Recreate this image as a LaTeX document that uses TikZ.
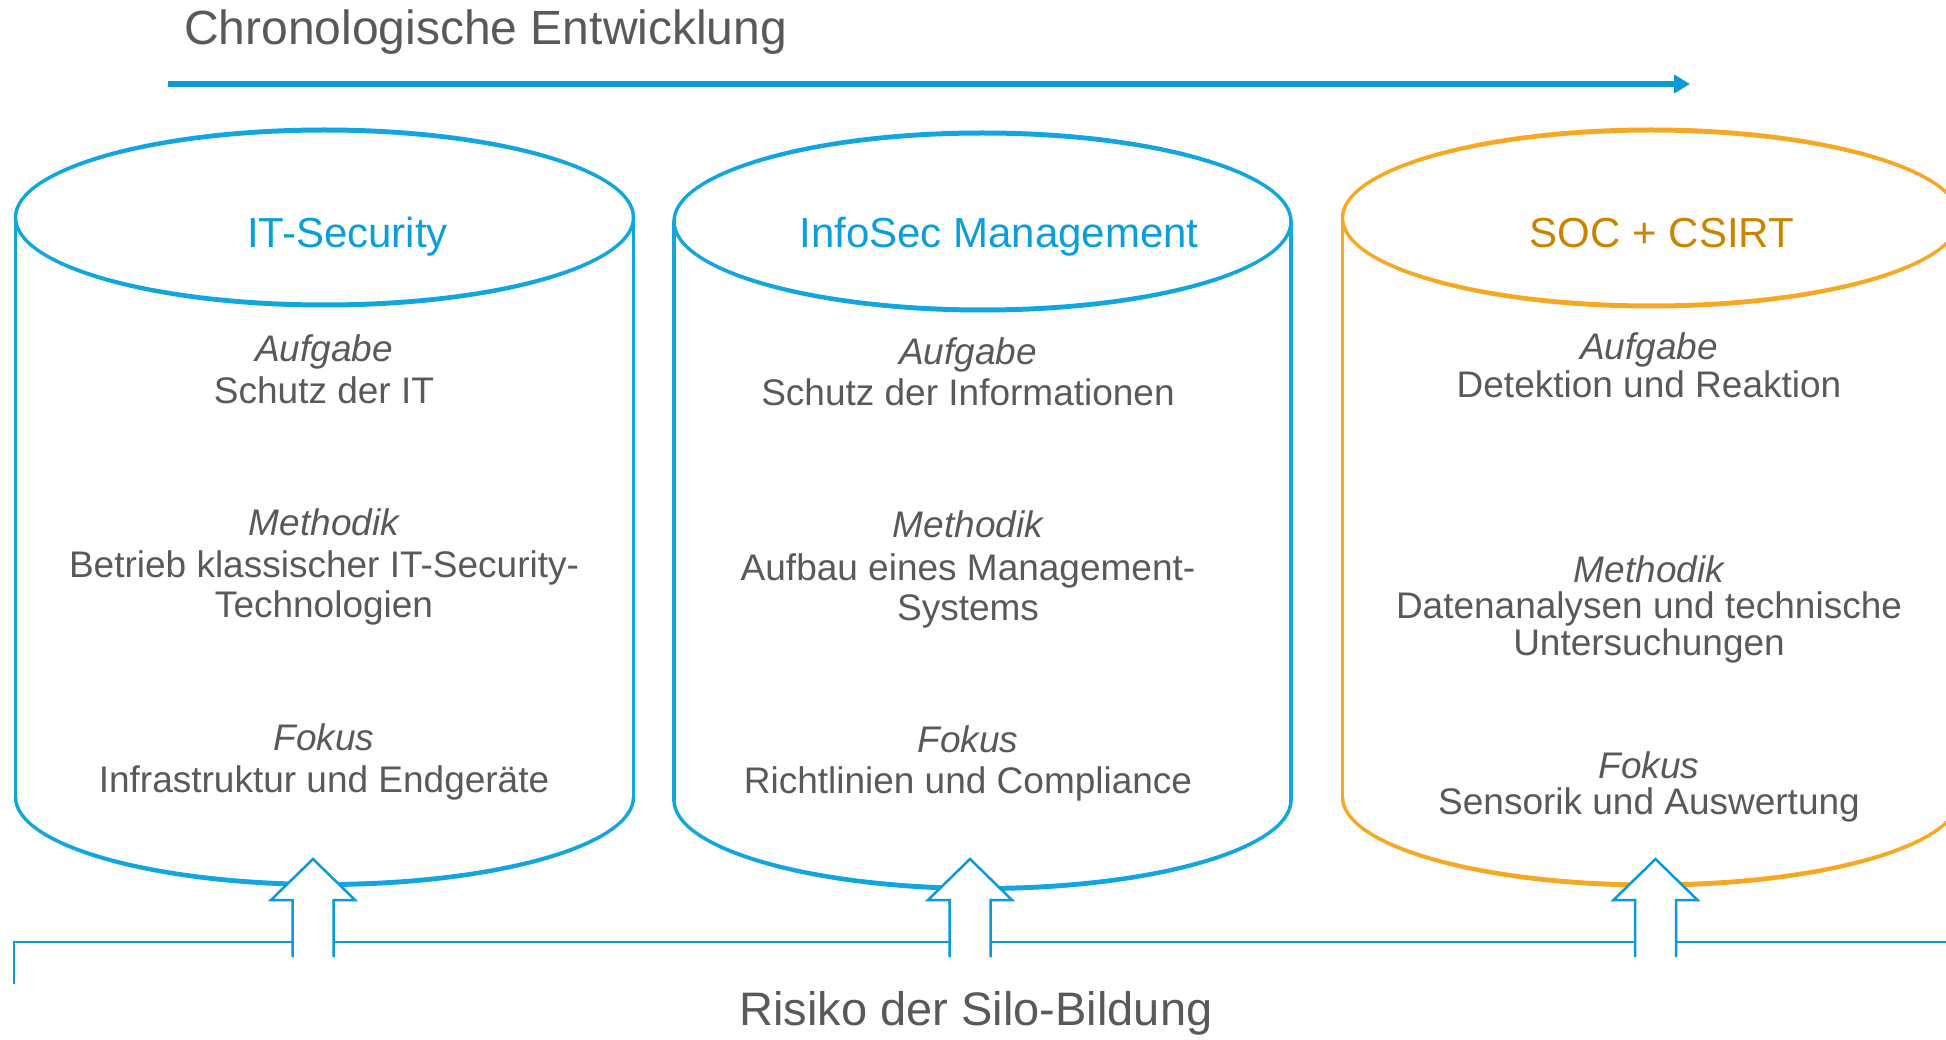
\documentclass[tikz,border=0pt]{standalone}
\usepackage{fontspec}
\setmainfont{Liberation Sans}
\usetikzlibrary{arrows.meta}
\definecolor{cblue}{HTML}{12A6E0}
\definecolor{cbluetxt}{HTML}{0A9FDB}
\definecolor{carrow}{HTML}{0A9AD8}
\definecolor{corange}{HTML}{F7A823}
\definecolor{corangetxt}{HTML}{C98500}
\definecolor{tgray}{HTML}{595959}
% #1 cx, #2 rx, #3 top cy, #4 ry, #5 bottom cy, #6 colour
\newcommand\drawsilo[6]{%
  \fill[#6,even odd rule] (#1,#3) ellipse[x radius=#2+1.75, y radius=#4+2.5]
                          (#1,#3) ellipse[x radius=#2-1.75, y radius=#4-2.5];
  \fill[#6] (#1-#2-1.75,#5) arc[start angle=180,end angle=0,x radius=#2+1.75,y radius=#4+2.5]
            -- (#1+#2-1.75,#5) arc[start angle=0,end angle=180,x radius=#2-1.75,y radius=#4-2.5] -- cycle;
  \draw[line width=3.5pt,#6] (#1-#2,#3) -- (#1-#2,#5+0.5);
  \draw[line width=3.5pt,#6] (#1+#2,#3) -- (#1+#2,#5+0.5);
}
\newcommand\uparrowblock[1]{%
  \fill[white] (#1-20.5,957) -- (#1-20.5,900) -- (#1-42,900) -- (#1,859) -- (#1+42,900) -- (#1+20.5,900) -- (#1+20.5,957) -- cycle;
  \draw[bracket] (#1-20.5,957) -- (#1-20.5,900) -- (#1-42,900) -- (#1,859) -- (#1+42,900) -- (#1+20.5,900) -- (#1+20.5,957);
}
\begin{document}
\begin{tikzpicture}[x=1pt,y=-1pt,
  bracket/.style={draw=carrow,line width=2.5pt},
  head/.style={font=\fontsize{42}{50}\selectfont,anchor=base,inner sep=0pt},
  lab/.style={font=\fontsize{37}{44}\selectfont\itshape,text=tgray,anchor=base,inner sep=0pt},
  txt/.style={font=\fontsize{37}{44}\selectfont,text=tgray,anchor=base,inner sep=0pt}]
\useasboundingbox (0,0) rectangle (1946,1040);
\clip (0,0) rectangle (1946,1040);
% title and timeline
\node[font=\fontsize{48}{58}\selectfont,text=tgray,anchor=base west,inner sep=0pt] (title) at (184,45) {Chronologische Entwicklung};
\coordinate (tl0) at (168,84);
\coordinate (tl1) at (1690,84);
\draw[carrow,line width=6pt,-{Triangle[length=16pt,width=18pt]}] (tl0) -- (tl1);
% silos
\drawsilo{324.5}{309}{217.5}{87.5}{797}{cblue}
\drawsilo{982.5}{308.5}{221.5}{88.5}{800}{cblue}
\drawsilo{1651}{308.5}{218}{88}{797}{corange}
% headings
\node[head,text=cbluetxt] (h1) at (347.5,248) {IT-Security};
\node[head,text=cbluetxt] (h2) at (999,248) {InfoSec Management};
\node[head,text=corangetxt] (h3) at (1662,248) {SOC + CSIRT};
% silo 1
\node[lab] (a1) at (324,362) {Aufgabe};
\node[txt] (a1t) at (324,403) {Schutz der IT};
\node[lab] (m1) at (324,535) {Methodik};
\node[txt] (m1t) at (324,577) {Betrieb klassischer IT-Security-};
\node[txt] (m1u) at (324,617) {Technologien};
\node[lab] (f1) at (324,750) {Fokus};
\node[txt] (f1t) at (324,792) {Infrastruktur und Endgeräte};
% silo 2
\node[lab] (a2) at (968,365) {Aufgabe};
\node[txt] (a2t) at (968,405) {Schutz der Informationen};
\node[lab] (m2) at (968,537) {Methodik};
\node[txt] (m2t) at (968,580) {Aufbau eines Management-};
\node[txt] (m2u) at (968,620) {Systems};
\node[lab] (f2) at (968,752) {Fokus};
\node[txt] (f2t) at (968,793) {Richtlinien und Compliance};
% silo 3
\node[lab] (a3) at (1649,360) {Aufgabe};
\node[txt] (a3t) at (1649,397) {Detektion und Reaktion};
\node[lab] (m3) at (1649,582) {Methodik};
\node[txt] (m3t) at (1649,618) {Datenanalysen und technische};
\node[txt] (m3u) at (1649,655) {Untersuchungen};
\node[lab] (f3) at (1649,778) {Fokus};
\node[txt] (f3t) at (1649,814) {Sensorik und Auswertung};
% bracket and block arrows
\uparrowblock{313}
\uparrowblock{970}
\uparrowblock{1655.5}
\draw[bracket] (14,984) -- (14,942) -- (292.5,942);
\draw[bracket] (333.5,942) -- (949.5,942);
\draw[bracket] (990.5,942) -- (1635,942);
\draw[bracket] (1676,942) -- (1950,942);
\node[font=\fontsize{47}{56}\selectfont,text=tgray,anchor=base,inner sep=0pt] (risk) at (976,1025) {Risiko der Silo-Bildung};
\end{tikzpicture}
\end{document}
